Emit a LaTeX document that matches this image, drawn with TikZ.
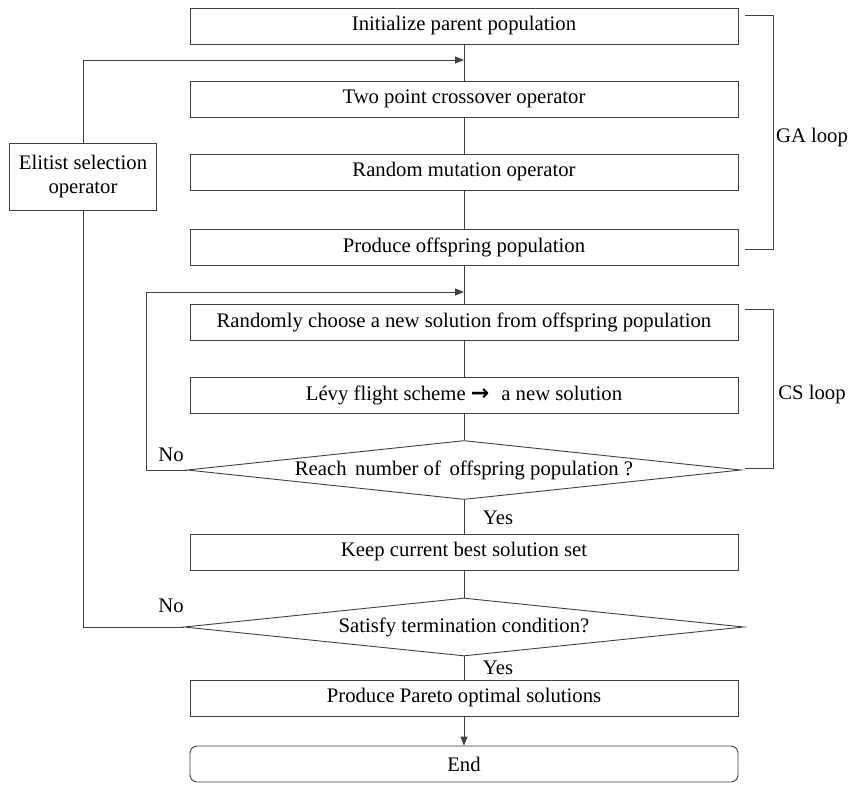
\documentclass[tikz,border=0pt]{standalone}
\usepackage{fontspec}
\setmainfont{Liberation Serif}
\newfontfamily\arrowfont{DejaVu Sans}
\usetikzlibrary{arrows.meta,shapes.geometric}

\begin{document}
\begin{tikzpicture}[x=1pt,y=-1pt,font=\rmfamily\fontsize{20.7}{24}\selectfont,
  stepbox/.style={rectangle,draw=black!75,line width=0.9pt,fill=white,minimum width=548pt,minimum height=36pt,inner sep=0pt},
  decide/.style={diamond,draw=black!75,line width=0.9pt,fill=white,aspect=9.4,inner sep=0pt},
  link/.style={draw=black!75,line width=0.9pt},
  tip/.style={-{Triangle[length=9pt,width=7pt]}}]
\useasboundingbox (0,0) rectangle (858,798);
\node[stepbox] (init) at (464,26) {Initialize parent population};
\node[stepbox] (cross) at (464,99) {Two point crossover operator};
\node[stepbox] (mut) at (464,172) {Random mutation operator};
\node[stepbox] (offs) at (464,247) {Produce offspring population};
\node[stepbox] (pick) at (464,322) {Randomly choose a new solution from offspring population};
\node[stepbox] (levy) at (464,395) {L\'evy flight scheme {\arrowfont\bfseries\fontsize{22}{24}\selectfont →}\,\, a new solution};
\node[decide,minimum width=554pt,minimum height=59pt] (reach) at (464,470) {Reach\, number of\, offspring population ?};
\node[stepbox] (keep) at (464,552) {Keep current best solution set};
\node[decide,minimum width=560pt,minimum height=58pt] (term) at (464,627) {Satisfy termination condition?};
\node[stepbox] (pareto) at (464,698) {Produce Pareto optimal solutions};
\node[stepbox,rounded corners=7pt] (end) at (464,764) {End};
\node[rectangle,draw=black!75,line width=0.9pt,minimum width=147pt,minimum height=67pt,align=center,inner sep=0pt] (elit) at (83,177) {Elitist selection\\operator};
\coordinate (ga) at (464,60);
\coordinate (cs) at (464,292);
% main flow
\draw[link] (init) -- (cross);
\draw[link] (cross) -- (mut);
\draw[link] (mut) -- (offs);
\draw[link] (offs) -- (pick);
\draw[link] (pick) -- (levy);
\draw[link] (levy) -- (reach);
\draw[link] (reach) -- (keep);
\draw[link] (keep) -- (term);
\draw[link] (term) -- (pareto);
\draw[link,tip] (pareto) -- (end);
% loops
\draw[link,tip] (reach.west) -- ++(-40,0) |- (cs);
\draw[link] (term.west) -| (elit.south);
\draw[link,tip] (elit.north) |- (ga);
\node (no1) at (171,455) {No};
\node (no2) at (171,606) {No};
\node (yes1) at (498,518) {Yes};
\node (yes2) at (498,668) {Yes};
% brackets
\draw[link] (745,15) -- (773,15) -- (773,249) -- (745,249);
\draw[link] (745,309) -- (773,309) -- (773,468) -- (745,468);
\node (galab) at (812,138) {GA loop};
\node (cslab) at (812,395) {CS loop};
\end{tikzpicture}
\end{document}
